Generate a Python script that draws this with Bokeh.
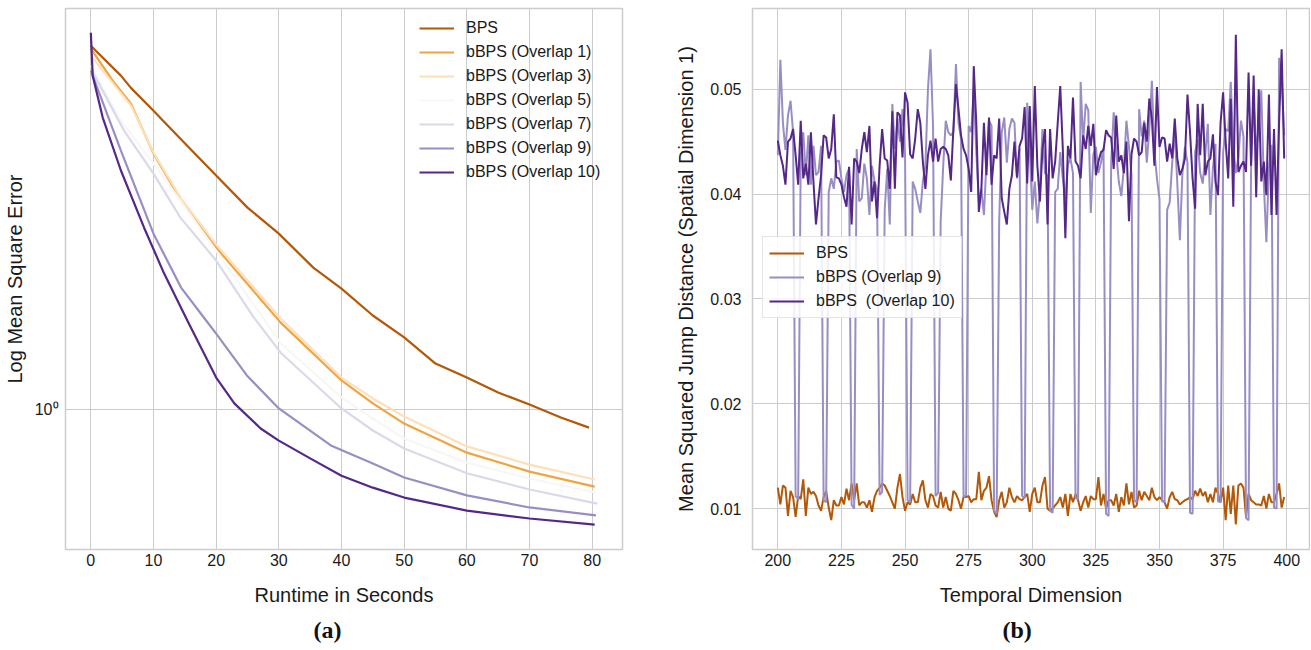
from bokeh.plotting import figure
from bokeh.layouts import row
from bokeh.models import (Range1d, FixedTicker, CustomJSTickFormatter, Legend,
                          LegendItem, Title)
from bokeh.embed import file_html
from bokeh.resources import INLINE

# ---------------- data: panel (a) ----------------
bps_t = [0, 4.8, 6.4, 10, 14.3, 20, 25, 30, 35.5, 40, 45, 50, 55, 60, 65, 70, 75, 79.5]
bps_v = [3.864, 3.457, 3.303, 3.034, 2.735, 2.385, 2.117, 1.922, 1.694, 1.567, 1.418,
         1.307, 1.186, 1.126, 1.065, 1.019, 0.971, 0.935]
o1_t = [0, 3.7, 6.4, 10, 14.4, 20, 30.3, 40, 45, 50, 60, 70, 80.4]
o1_v = [3.822, 3.369, 3.115, 2.588, 2.173, 1.825, 1.381, 1.114, 1.023, 0.949, 0.852, 0.794, 0.751]
o3_t = [0, 6.4, 10, 14.4, 20, 30.3, 40, 45, 50, 60, 70, 80.4]
o3_v = [3.724, 3.093, 2.598, 2.189, 1.845, 1.402, 1.126, 1.042, 0.974, 0.872, 0.815, 0.771]
o5_t = [0, 5, 10, 20, 30.3, 40, 45, 50, 60, 70, 80.5]
o5_v = [3.588, 2.904, 2.494, 1.805, 1.278, 1.046, 0.967, 0.898, 0.821, 0.774, 0.735]
o7_t = [0, 5.3, 10, 14.3, 20, 26, 30.3, 40, 45, 50, 60, 70, 80.8]
o7_v = [3.548, 2.818, 2.402, 2.040, 1.739, 1.408, 1.235, 1.004, 0.925, 0.865, 0.789, 0.743, 0.705]
o9_t = [0, 4.8, 10, 14.4, 18.4, 20, 24.9, 30, 38.3, 45, 50, 60, 70, 80.6]
o9_v = [3.522, 2.617, 1.922, 1.573, 1.392, 1.326, 1.135, 1.004, 0.875, 0.818, 0.777, 0.727,
        0.695, 0.675]
o10_t = [0, 0.3, 1.9, 4.8, 8.5, 11.7, 15.4, 20, 22.9, 27.1, 30, 35, 40, 45, 50, 60, 70, 80.4]
o10_v = [4.055, 3.457, 2.958, 2.430, 1.965, 1.657, 1.392, 1.126, 1.023, 0.932, 0.891, 0.834,
         0.782, 0.748, 0.721, 0.687, 0.667, 0.652]
a_ticks = [0, 10, 20, 30, 40, 50, 60, 70, 80]

# ---------------- data: panel (b) ----------------
steps = list(range(200, 400))
bps_mjd = [
    0.0120, 0.0104, 0.0122, 0.0120, 0.0093, 0.0117, 0.0111, 0.0092, 0.0112, 0.0109,
    0.0128, 0.0093, 0.0120, 0.0114, 0.0116, 0.0112, 0.0103, 0.0098, 0.0111, 0.0117,
    0.0101, 0.0089, 0.0108, 0.0103, 0.0103, 0.0111, 0.0104, 0.0119, 0.0108, 0.0124,
    0.0108, 0.0124, 0.0103, 0.0106, 0.0106, 0.0101, 0.0108, 0.0097, 0.0111, 0.0117,
    0.0120, 0.0124, 0.0122, 0.0117, 0.0112, 0.0106, 0.0100, 0.0120, 0.0133, 0.0111,
    0.0098, 0.0106, 0.0104, 0.0114, 0.0106, 0.0106, 0.0120, 0.0127, 0.0108, 0.0101,
    0.0114, 0.0112, 0.0103, 0.0101, 0.0116, 0.0101, 0.0111, 0.0100, 0.0098, 0.0117,
    0.0114, 0.0108, 0.0100, 0.0111, 0.0111, 0.0112, 0.0106, 0.0109, 0.0109, 0.0135,
    0.0108, 0.0117, 0.0120, 0.0131, 0.0108, 0.0097, 0.0092, 0.0108, 0.0116, 0.0101,
    0.0106, 0.0120, 0.0111, 0.0106, 0.0112, 0.0109, 0.0108, 0.0111, 0.0114, 0.0097,
    0.0114, 0.0120, 0.0106, 0.0106, 0.0122, 0.0130, 0.0100, 0.0098, 0.0100, 0.0103,
    0.0106, 0.0111, 0.0101, 0.0114, 0.0093, 0.0114, 0.0106, 0.0114, 0.0108, 0.0098,
    0.0106, 0.0112, 0.0101, 0.0112, 0.0109, 0.0109, 0.0130, 0.0103, 0.0114, 0.0100,
    0.0108, 0.0108, 0.0103, 0.0114, 0.0097, 0.0111, 0.0103, 0.0124, 0.0104, 0.0116,
    0.0101, 0.0103, 0.0117, 0.0108, 0.0116, 0.0112, 0.0108, 0.0120, 0.0111, 0.0108,
    0.0111, 0.0108, 0.0106, 0.0100, 0.0111, 0.0116, 0.0109, 0.0108, 0.0104, 0.0106,
    0.0108, 0.0109, 0.0111, 0.0109, 0.0117, 0.0112, 0.0119, 0.0112, 0.0116, 0.0106,
    0.0114, 0.0106, 0.0120, 0.0114, 0.0106, 0.0120, 0.0089, 0.0122, 0.0095, 0.0122,
    0.0085, 0.0122, 0.0124, 0.0120, 0.0092, 0.0114, 0.0108, 0.0106, 0.0104, 0.0104,
    0.0103, 0.0112, 0.0100, 0.0114, 0.0106, 0.0106, 0.0114, 0.0124, 0.0101, 0.0111]
o9_mjd = [
    0.0437, 0.0528, 0.0468, 0.0442, 0.0475, 0.0489, 0.0459, 0.0112, 0.0109, 0.0437,
    0.0459, 0.0418, 0.0456, 0.0409, 0.0446, 0.0418, 0.0421, 0.0446, 0.0108, 0.0106,
    0.0402, 0.0415, 0.0405, 0.0431, 0.0432, 0.0415, 0.0402, 0.0418, 0.0424, 0.0104,
    0.0100, 0.0443, 0.0393, 0.0396, 0.0429, 0.0415, 0.0380, 0.0427, 0.0412, 0.0405,
    0.0113, 0.0116, 0.0385, 0.0424, 0.0371, 0.0486, 0.0443, 0.0472, 0.0450, 0.0481,
    0.0437, 0.0108, 0.0106, 0.0412, 0.0405, 0.0393, 0.0382, 0.0412, 0.0427, 0.0500,
    0.0538, 0.0465, 0.0112, 0.0115, 0.0374, 0.0427, 0.0470, 0.0459, 0.0456, 0.0459,
    0.0524, 0.0468, 0.0453, 0.0111, 0.0113, 0.0465, 0.0459, 0.0500, 0.0440, 0.0393,
    0.0405, 0.0380, 0.0431, 0.0470, 0.0465, 0.0098, 0.0095, 0.0374, 0.0459, 0.0473,
    0.0430, 0.0462, 0.0472, 0.0468, 0.0415, 0.0443, 0.0112, 0.0110, 0.0487, 0.0443,
    0.0385, 0.0412, 0.0372, 0.0402, 0.0462, 0.0420, 0.0418, 0.0098, 0.0096, 0.0402,
    0.0405, 0.0440, 0.0415, 0.0395, 0.0428, 0.0434, 0.0420, 0.0110, 0.0109, 0.0507,
    0.0450, 0.0486, 0.0480, 0.0382, 0.0438, 0.0445, 0.0420, 0.0430, 0.0444, 0.0095,
    0.0093, 0.0430, 0.0478, 0.0440, 0.0412, 0.0398, 0.0425, 0.0470, 0.0445, 0.0418,
    0.0108, 0.0106, 0.0481, 0.0455, 0.0470, 0.0430, 0.0462, 0.0508, 0.0440, 0.0415,
    0.0395, 0.0107, 0.0106, 0.0385, 0.0392, 0.0430, 0.0460, 0.0410, 0.0356, 0.0420,
    0.0445, 0.0430, 0.0096, 0.0095, 0.0440, 0.0452, 0.0420, 0.0410, 0.0438, 0.0467,
    0.0380, 0.0425, 0.0448, 0.0107, 0.0106, 0.0440, 0.0462, 0.0460, 0.0507, 0.0445,
    0.0420, 0.0435, 0.0470, 0.0455, 0.0091, 0.0089, 0.0430, 0.0488, 0.0440, 0.0465,
    0.0499, 0.0410, 0.0354, 0.0425, 0.0447, 0.0101, 0.0100, 0.0530, 0.0510, 0.0456]
o10_mjd = [
    0.0451, 0.0437, 0.0427, 0.0409, 0.0450, 0.0453, 0.0462, 0.0437, 0.0409, 0.0470,
    0.0415, 0.0429, 0.0409, 0.0459, 0.0412, 0.0371, 0.0396, 0.0418, 0.0456, 0.0454,
    0.0434, 0.0443, 0.0476, 0.0416, 0.0415, 0.0409, 0.0397, 0.0388, 0.0426, 0.0371,
    0.0434, 0.0431, 0.0420, 0.0443, 0.0459, 0.0440, 0.0465, 0.0393, 0.0412, 0.0377,
    0.0427, 0.0462, 0.0434, 0.0432, 0.0405, 0.0479, 0.0405, 0.0478, 0.0475, 0.0435,
    0.0497, 0.0487, 0.0438, 0.0434, 0.0453, 0.0481, 0.0468, 0.0431, 0.0405, 0.0437,
    0.0451, 0.0431, 0.0453, 0.0431, 0.0443, 0.0445, 0.0443, 0.0437, 0.0413, 0.0462,
    0.0505, 0.0481, 0.0456, 0.0443, 0.0437, 0.0424, 0.0402, 0.0522, 0.0468, 0.0383,
    0.0405, 0.0468, 0.0418, 0.0473, 0.0409, 0.0437, 0.0434, 0.0472, 0.0396, 0.0383,
    0.0371, 0.0405, 0.0418, 0.0450, 0.0416, 0.0446, 0.0453, 0.0483, 0.0410, 0.0484,
    0.0412, 0.0503, 0.0427, 0.0393, 0.0443, 0.0462, 0.0371, 0.0462, 0.0415, 0.0431,
    0.0468, 0.0503, 0.0443, 0.0358, 0.0446, 0.0434, 0.0492, 0.0431, 0.0427, 0.0415,
    0.0456, 0.0443, 0.0465, 0.0446, 0.0467, 0.0418, 0.0431, 0.0440, 0.0442, 0.0461,
    0.0456, 0.0454, 0.0424, 0.0475, 0.0431, 0.0437, 0.0420, 0.0450, 0.0374, 0.0438,
    0.0453, 0.0450, 0.0437, 0.0440, 0.0468, 0.0450, 0.0491, 0.0472, 0.0427, 0.0502,
    0.0445, 0.0454, 0.0453, 0.0431, 0.0448, 0.0434, 0.0472, 0.0434, 0.0418, 0.0424,
    0.0434, 0.0495, 0.0459, 0.0415, 0.0386, 0.0486, 0.0437, 0.0486, 0.0418, 0.0431,
    0.0434, 0.0457, 0.0412, 0.0399, 0.0468, 0.0497, 0.0450, 0.0415, 0.0491, 0.0388,
    0.0552, 0.0421, 0.0427, 0.0431, 0.0421, 0.0516, 0.0427, 0.0513, 0.0397, 0.0500,
    0.0412, 0.0431, 0.0399, 0.0495, 0.0380, 0.0462, 0.0380, 0.0468, 0.0538, 0.0434]
b_xticks = [200, 225, 250, 275, 300, 325, 350, 375, 400]
b_yticks = [0.01, 0.02, 0.03, 0.04, 0.05]

# ---------------- styling ----------------
FONT = "Liberation Sans"
TXT = "#1a1a1a"
C = {"BPS": "#b35806", "O1": "#f1a340", "O3": "#fee0b6", "O5": "#f7f7f7",
     "O7": "#d8daeb", "O9": "#998ec3", "O10": "#542788"}
H = 648


def style(p):
    p.outline_line_color = "#cccccc"
    p.outline_line_width = 1.5
    p.background_fill_color = "white"
    p.border_fill_color = "white"
    for ax in p.axis:
        ax.axis_line_color = None
        ax.major_tick_line_color = None
        ax.minor_tick_line_color = None
        ax.major_tick_out = 0
        ax.major_tick_in = 0
        ax.minor_tick_out = 0
        ax.minor_tick_in = 0
        ax.major_label_text_font = FONT
        ax.major_label_text_font_size = "16px"
        ax.major_label_text_color = TXT
        ax.axis_label_text_font = FONT
        ax.axis_label_text_font_size = "20px"
        ax.axis_label_text_font_style = "normal"
        ax.axis_label_text_color = TXT
    for g in p.grid:
        g.grid_line_color = "#cccccc"
        g.grid_line_width = 1


def style_legend(lg):
    lg.label_text_font = FONT
    lg.label_text_font_size = "16px"
    lg.label_text_color = TXT
    lg.glyph_width = 35
    lg.glyph_height = 20
    lg.label_height = 20
    lg.label_standoff = 12
    lg.spacing = 4
    lg.padding = 6
    lg.margin = 0


# ---------------- panel (a) ----------------
p1 = figure(width=670, height=H, x_range=Range1d(-4.04, 84.84),
            y_range=Range1d(0.5945, 4.436), y_axis_type="log",
            output_backend="svg", toolbar_location=None,
            min_border_left=65, min_border_right=48, min_border_top=8,
            min_border_bottom=99)
xt = FixedTicker(ticks=a_ticks)
p1.xaxis.ticker = xt
p1.xgrid.ticker = xt
yt = FixedTicker(ticks=[1])
p1.yaxis.ticker = yt
p1.ygrid.ticker = yt
p1.yaxis.formatter = CustomJSTickFormatter(code="return '10\u2070';")
p1.xaxis.axis_label = "Runtime in Seconds"
p1.yaxis.axis_label = "Log Mean Square Error"
style(p1)
p1.xaxis.major_label_standoff = 4
p1.xaxis.axis_label_standoff = 15
p1.yaxis.major_label_standoff = 7
p1.yaxis.axis_label_standoff = 6

series_a = [("BPS", bps_t, bps_v, C["BPS"]),
            ("bBPS (Overlap 1)", o1_t, o1_v, C["O1"]),
            ("bBPS (Overlap 3)", o3_t, o3_v, C["O3"]),
            ("bBPS (Overlap 5)", o5_t, o5_v, C["O5"]),
            ("bBPS (Overlap 7)", o7_t, o7_v, C["O7"]),
            ("bBPS (Overlap 9)", o9_t, o9_v, C["O9"]),
            ("bBPS (Overlap 10)", o10_t, o10_v, C["O10"])]
items_a = []
for name, xs, ys, col in series_a:
    r = p1.line(xs, ys, line_color=col, line_width=2.2)
    items_a.append(LegendItem(label=name, renderers=[r]))
leg_a = Legend(items=items_a, location=(354, 367))
style_legend(leg_a)
leg_a.background_fill_alpha = 0
leg_a.border_line_color = None
p1.add_layout(leg_a)
p1.add_layout(Title(text="(a)", align="left", offset=248,
                    text_font="Liberation Serif", text_font_size="24px",
                    text_font_style="bold", text_color="#111111", standoff=12),
              "below")

# ---------------- panel (b) ----------------
p2 = figure(width=640, height=H, x_range=Range1d(190.05, 408.95),
            y_range=Range1d(0.0061, 0.0577),
            output_backend="svg", toolbar_location=None,
            min_border_left=82, min_border_right=1, min_border_top=8,
            min_border_bottom=99)
xt2 = FixedTicker(ticks=b_xticks)
p2.xaxis.ticker = xt2
p2.xgrid.ticker = xt2
yt2 = FixedTicker(ticks=b_yticks)
p2.yaxis.ticker = yt2
p2.ygrid.ticker = yt2
p2.xaxis.axis_label = "Temporal Dimension"
p2.yaxis.axis_label = "Mean Squared Jump Distance (Spatial Dimension 1)"
style(p2)
p2.xaxis.major_label_standoff = 4
p2.xaxis.axis_label_standoff = 15
p2.yaxis.major_label_standoff = 11
p2.yaxis.axis_label_standoff = 10

series_b = [("BPS", bps_mjd, C["BPS"]),
            ("bBPS (Overlap 9)", o9_mjd, C["O9"]),
            ("bBPS  (Overlap 10)", o10_mjd, C["O10"])]
items_b = []
for name, ys, col in series_b:
    r = p2.line(steps, ys, line_color=col, line_width=2)
    items_b.append(LegendItem(label=name, renderers=[r]))
leg_b = Legend(items=items_b, location=(10, 231))
style_legend(leg_b)
leg_b.background_fill_color = "white"
leg_b.background_fill_alpha = 0.85
leg_b.border_line_color = "#cccccc"
leg_b.border_line_width = 1
p2.add_layout(leg_b)
p2.add_layout(Title(text="(b)", align="left", offset=250,
                    text_font="Liberation Serif", text_font_size="24px",
                    text_font_style="bold", text_color="#111111", standoff=12),
              "below")

layout = row(p1, p2)
open("out.html", "w").write(file_html(layout, INLINE))
